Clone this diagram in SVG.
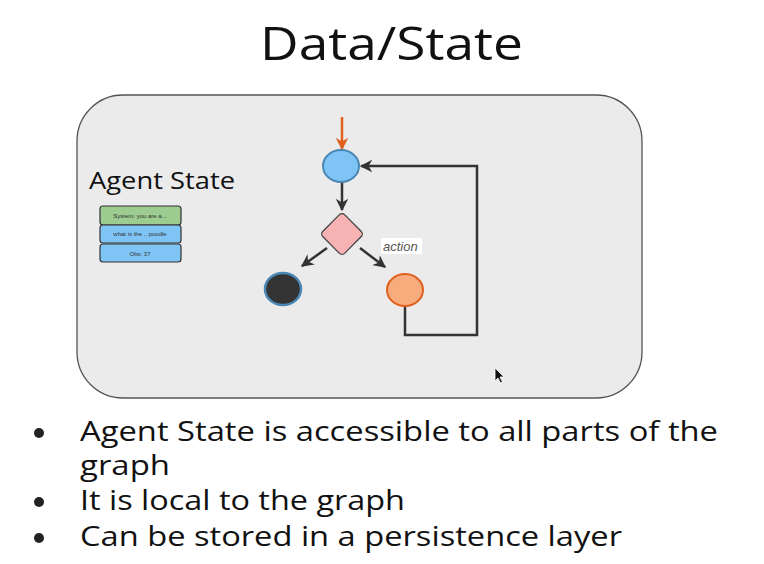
<svg xmlns="http://www.w3.org/2000/svg" width="764" height="564" viewBox="0 0 764 564">
  <style>
    .sans { font-family: "Open Sans", "Liberation Sans", sans-serif; fill: #111; }
    .edge { stroke: #333; stroke-width: 2.5; fill: none; }
    .msg { stroke: #333; stroke-width: 1.2; }
    .msgtxt { font-family: "Liberation Sans", sans-serif; font-size: 6px; fill: #333; text-anchor: middle; }
  </style>
  <defs>
    <marker id="arr" viewBox="0 0 10 10" refX="9" refY="5" markerWidth="5" markerHeight="5" orient="auto">
      <path d="M0,0 L10,5 L0,10 L3,5 Z" fill="#333"/>
    </marker>
    <marker id="arrO" viewBox="0 0 10 10" refX="9" refY="5" markerWidth="5" markerHeight="5" orient="auto">
      <path d="M0,0 L10,5 L0,10 L3,5 Z" fill="#e0601e"/>
    </marker>
  </defs>
  <rect width="764" height="564" fill="#ffffff"/>

  <text class="sans" x="260" y="60" font-size="45" textLength="263" lengthAdjust="spacingAndGlyphs">Data/State</text>

  <!-- container panel -->
  <rect x="77" y="95" width="565" height="303" rx="46" fill="#ebebeb" stroke="#555" stroke-width="1.3"/>

  <g id="agent-state">
    <text class="sans" x="89" y="189" font-size="23" fill="#222" textLength="146" lengthAdjust="spacingAndGlyphs">Agent State</text>
    <g id="msg-system">
      <rect class="msg" x="100" y="206" width="81" height="19" rx="3" fill="#9ccc8f"/>
      <text class="msgtxt" x="140" y="218">System: you are a...</text>
    </g>
    <g id="msg-user">
      <rect class="msg" x="100" y="225" width="81" height="18" rx="3" fill="#7ec4f5"/>
      <text class="msgtxt" x="140" y="236">what is the .. poodle</text>
    </g>
    <g id="msg-obs">
      <rect class="msg" x="100" y="244" width="81" height="18" rx="3" fill="#7ec4f5"/>
      <text class="msgtxt" x="140" y="256">Obs: 37</text>
    </g>
  </g>

  <g id="connectors">
    <line x1="342" y1="117" x2="342" y2="149" stroke="#e0601e" stroke-width="2.5" marker-end="url(#arrO)"/>
    <line class="edge" x1="342" y1="182" x2="342" y2="210" marker-end="url(#arr)"/>
    <line class="edge" x1="327" y1="248" x2="302" y2="266" marker-end="url(#arr)"/>
    <line class="edge" x1="360" y1="248" x2="385" y2="267" marker-end="url(#arr)"/>
    <polyline class="edge" points="405,306 405,335 477,335 477,166 361,166" marker-end="url(#arr)"/>
  </g>

  <g id="start-node">
    <ellipse cx="341" cy="166" rx="18" ry="16" fill="#7ec4f5" stroke="#4a87b5" stroke-width="2"/>
  </g>
  <g id="decision">
    <rect x="326.5" y="218.5" width="31" height="31" rx="4" transform="rotate(45 342 234)" fill="#f7b3b3" stroke="#444" stroke-width="1.3"/>
  </g>
  <g id="end-node">
    <ellipse cx="283" cy="289" rx="18" ry="16" fill="#333" stroke="#4a87b5" stroke-width="2.5"/>
  </g>
  <g id="action-node">
    <ellipse cx="405" cy="290" rx="18" ry="16" fill="#f8ab7c" stroke="#e0601e" stroke-width="2"/>
  </g>
  <g id="action-label">
    <rect x="381" y="238" width="41" height="16" fill="#ffffff"/>
    <text x="383" y="251" font-family="Liberation Sans, sans-serif" font-size="13" font-style="italic" fill="#555">action</text>
  </g>

  <!-- mouse pointer -->
  <path d="M495,368 L495,381 L498,378 L500.5,383 L502.5,382 L500,377 L504,377 Z" fill="#111" stroke="#fff" stroke-width="0.8"/>

  <g id="bullets" class="sans" font-size="27">
    <circle cx="39" cy="433" r="5" fill="#222"/>
    <text x="80" y="441" textLength="638" lengthAdjust="spacingAndGlyphs">Agent State is accessible to all parts of the</text>
    <text x="80" y="475" textLength="90" lengthAdjust="spacingAndGlyphs">graph</text>
    <circle cx="39" cy="502" r="5" fill="#222"/>
    <text x="80" y="510" textLength="325" lengthAdjust="spacingAndGlyphs">It is local to the graph</text>
    <circle cx="39" cy="538" r="5" fill="#222"/>
    <text x="80" y="546" textLength="542" lengthAdjust="spacingAndGlyphs">Can be stored in a persistence layer</text>
  </g>
</svg>
